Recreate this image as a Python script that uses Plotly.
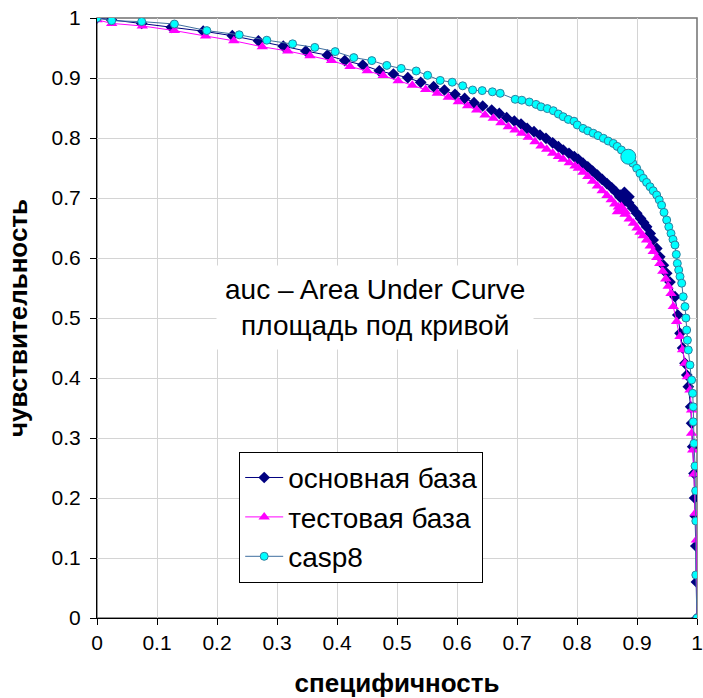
import plotly.graph_objects as go

# ---- data ----
base_x = [0.0, 0.024, 0.0745, 0.124, 0.177, 0.2255, 0.269, 0.3105, 0.348, 0.384,
          0.413, 0.443, 0.4705, 0.494, 0.518, 0.5395, 0.561, 0.579, 0.5967, 0.6128,
          0.6283, 0.6428, 0.6578, 0.6705, 0.6828, 0.6955, 0.7067, 0.717, 0.7283, 0.7383,
          0.7483, 0.7595, 0.769, 0.777, 0.7867, 0.7955, 0.8022, 0.81, 0.818, 0.826,
          0.834, 0.842, 0.85, 0.858, 0.865, 0.872, 0.879, 0.886, 0.893, 0.8995,
          0.906, 0.911, 0.916, 0.922, 0.927, 0.933, 0.938, 0.944, 0.9495, 0.955,
          0.9633, 0.968, 0.9717, 0.976, 0.98, 0.983, 0.9855, 0.9895, 0.991, 0.9928,
          0.995, 0.996, 0.997, 0.998, 0.999, 1.0]
base_y = [1.0, 0.997, 0.991, 0.9845, 0.978, 0.9705, 0.962, 0.953, 0.945, 0.938,
          0.929, 0.9217, 0.912, 0.9067, 0.9005, 0.8928, 0.8855, 0.88, 0.8728, 0.866,
          0.8588, 0.8533, 0.8467, 0.841, 0.8338, 0.8283, 0.8233, 0.816, 0.8105, 0.805,
          0.7995, 0.792, 0.7855, 0.78, 0.7745, 0.769, 0.7645, 0.758, 0.752, 0.745,
          0.738, 0.731, 0.724, 0.717, 0.71, 0.705, 0.702, 0.692, 0.683, 0.6745,
          0.666, 0.659, 0.652, 0.641, 0.63, 0.616, 0.602, 0.588, 0.5745, 0.56,
          0.5355, 0.505, 0.4745, 0.45, 0.4245, 0.405, 0.3855, 0.352, 0.3245, 0.2855,
          0.241, 0.2, 0.17, 0.12, 0.06, 0.0]

test_x = [0.0, 0.0245, 0.0755, 0.129, 0.181, 0.228, 0.2755, 0.318, 0.355, 0.391,
          0.4217, 0.4505, 0.477, 0.502, 0.5255, 0.5478, 0.5672, 0.5855, 0.6022, 0.6178,
          0.6328, 0.6467, 0.6605, 0.6733, 0.6855, 0.6967, 0.7078, 0.7188, 0.73, 0.74,
          0.7495, 0.7595, 0.769, 0.777, 0.7872, 0.7967, 0.8022, 0.81, 0.818, 0.826,
          0.834, 0.842, 0.85, 0.857, 0.863, 0.869, 0.874, 0.88, 0.887, 0.894,
          0.9, 0.905, 0.91, 0.916, 0.922, 0.927, 0.933, 0.938, 0.943, 0.948,
          0.952, 0.9567, 0.9605, 0.966, 0.9717, 0.976, 0.98, 0.984, 0.9883, 0.991,
          0.991, 0.9928, 0.995, 0.997, 0.999, 1.0]
test_y = [0.997, 0.991, 0.9867, 0.979, 0.97, 0.962, 0.952, 0.945, 0.937, 0.929,
          0.919, 0.912, 0.904, 0.8955, 0.888, 0.881, 0.8745, 0.8678, 0.8605, 0.8538,
          0.8467, 0.8383, 0.8328, 0.8255, 0.8188, 0.8133, 0.8078, 0.8012, 0.7938, 0.7867,
          0.7812, 0.7745, 0.769, 0.7645, 0.7588, 0.7533, 0.7495, 0.743, 0.736, 0.728,
          0.72, 0.712, 0.704, 0.697, 0.69, 0.685, 0.68, 0.673, 0.665, 0.658,
          0.65, 0.643, 0.637, 0.63, 0.62, 0.611, 0.601, 0.591, 0.578, 0.565,
          0.553, 0.541, 0.519, 0.494, 0.469, 0.447, 0.4245, 0.402, 0.38, 0.3467,
          0.3078, 0.28, 0.24, 0.1745, 0.13, 0.0]

casp_x = [0.0, 0.0245, 0.0745, 0.129, 0.183, 0.237, 0.283, 0.326, 0.363, 0.397,
          0.428, 0.458, 0.483, 0.507, 0.532, 0.551, 0.572, 0.592, 0.6095, 0.626,
          0.642, 0.659, 0.672, 0.697, 0.708, 0.7205, 0.7317, 0.74, 0.7505, 0.7605,
          0.769, 0.777, 0.7855, 0.795, 0.8005, 0.81, 0.818, 0.827, 0.835, 0.844,
          0.852, 0.8605, 0.867, 0.874, 0.8855, 0.893, 0.8995, 0.905, 0.9105, 0.916,
          0.9217, 0.927, 0.9328, 0.937, 0.941, 0.945, 0.9495, 0.953, 0.9567, 0.96,
          0.9633, 0.9655, 0.9672, 0.9695, 0.9717, 0.9745, 0.977, 0.98, 0.9815, 0.9828,
          0.984, 0.9855, 0.9883, 0.991, 0.9928, 0.9938, 0.9938, 0.995, 0.9967, 0.9978,
          0.998, 0.998, 1.0]
casp_y = [1.0, 0.9955, 0.994, 0.99, 0.979, 0.972, 0.963, 0.957, 0.951, 0.944,
          0.934, 0.929, 0.921, 0.916, 0.9117, 0.9045, 0.896, 0.893, 0.887, 0.88,
          0.879, 0.877, 0.8745, 0.8645, 0.863, 0.86, 0.856, 0.852, 0.849, 0.8455,
          0.84, 0.8355, 0.831, 0.828, 0.8217, 0.816, 0.812, 0.808, 0.804, 0.7995,
          0.795, 0.791, 0.786, 0.78, 0.7688, 0.758, 0.7495, 0.741, 0.7328, 0.726,
          0.7188, 0.712, 0.705, 0.697, 0.688, 0.676, 0.6633, 0.652, 0.641, 0.631,
          0.6217, 0.606, 0.591, 0.58, 0.569, 0.558, 0.5355, 0.519, 0.5, 0.48,
          0.463, 0.4467, 0.4217, 0.3967, 0.3745, 0.352, 0.327, 0.291, 0.2533, 0.212,
          0.1617, 0.0717, 0.0]

# highlighted (cut-off) points
hl_base = (0.879, 0.702)
hl_test = (0.874, 0.68)
hl_casp = (0.8855, 0.7688)

series_names = ["основная база", "тестовая база", "casp8"]
x_ticks = [0, 0.1, 0.2, 0.3, 0.4, 0.5, 0.6, 0.7, 0.8, 0.9, 1]
x_tick_text = ["0", "0.1", "0.2", "0.3", "0.4", "0.5", "0.6", "0.7", "0.8", "0.9", "1"]
y_ticks = x_ticks
y_tick_text = x_tick_text

NAVY = "#000080"
MAG = "#FF00FF"
CYAN = "#00FFFF"
CLINE = "#3F6F9F"
FONT = "Liberation Sans, Arial, sans-serif"

fig = go.Figure()

fig.add_trace(go.Scatter(x=base_x, y=base_y, mode="lines+markers", name=series_names[0],
                         legendgroup="a",
                         line=dict(color=NAVY, width=1),
                         marker=dict(symbol="diamond", size=9, color=NAVY)))
fig.add_trace(go.Scatter(x=test_x, y=test_y, mode="lines+markers", name=series_names[1],
                         legendgroup="b",
                         line=dict(color=MAG, width=1),
                         marker=dict(symbol="triangle-up", size=10, color=MAG)))
fig.add_trace(go.Scatter(x=casp_x, y=casp_y, mode="lines+markers", name=series_names[2],
                         legendgroup="c",
                         line=dict(color=CLINE, width=1),
                         marker=dict(symbol="circle", size=8, color=CYAN,
                                     line=dict(color="#2F7F9F", width=1))))

fig.add_trace(go.Scatter(x=[hl_base[0]], y=[hl_base[1]], mode="markers", showlegend=False,
                         marker=dict(symbol="diamond", size=16, color=NAVY)))
fig.add_trace(go.Scatter(x=[hl_test[0]], y=[hl_test[1]], mode="markers", showlegend=False,
                         marker=dict(symbol="triangle-up", size=17, color=MAG)))
fig.add_trace(go.Scatter(x=[hl_casp[0]], y=[hl_casp[1]], mode="markers", showlegend=False,
                         marker=dict(symbol="circle", size=15, color=CYAN,
                                     line=dict(color="#2F7F9F", width=1))))

axis_common = dict(
    range=[0, 1], showgrid=True, gridcolor="#D4D4D4", gridwidth=1,
    showline=True, linecolor="black", linewidth=1,
    ticks="outside", ticklen=6, tickcolor="black", tickwidth=1,
    tickfont=dict(family=FONT, size=21, color="black"),
    zeroline=False, fixedrange=True, automargin=False,
)

fig.update_layout(
    width=703, height=698,
    margin=dict(l=97, r=6, t=18, b=80),
    paper_bgcolor="white", plot_bgcolor="white",
    font=dict(family=FONT, color="black"),
    xaxis=dict(axis_common, tickvals=x_ticks, ticktext=x_tick_text,
               title=dict(text="<b>специфичность</b>", font=dict(family=FONT, size=26),
                          standoff=24)),
    yaxis=dict(axis_common, tickvals=y_ticks, ticktext=y_tick_text,
               ticklabelstandoff=5,
               title=dict(text="<b>чувствительность</b>", font=dict(family=FONT, size=26),
                          standoff=16)),
    legend=dict(x=0.237, y=0.277, xanchor="left", yanchor="top",
                bgcolor="white", bordercolor="black", borderwidth=1,
                font=dict(family=FONT, size=28, color="black"),
                itemwidth=38, tracegroupgap=0, traceorder="grouped"),
    showlegend=True,
    shapes=[dict(type="rect", xref="x domain", yref="y domain", x0=0, x1=1, y0=0, y1=1,
                 line=dict(color="#707070", width=1.5), layer="below")],
    annotations=[dict(x=0.463, y=0.518, xref="x", yref="y",
                      text="auc – Area Under Curve<br>площадь под кривой",
                      showarrow=False, bgcolor="white", borderpad=8,
                      font=dict(family=FONT, size=28, color="black"))],
)

fig.write_html("out.html")
